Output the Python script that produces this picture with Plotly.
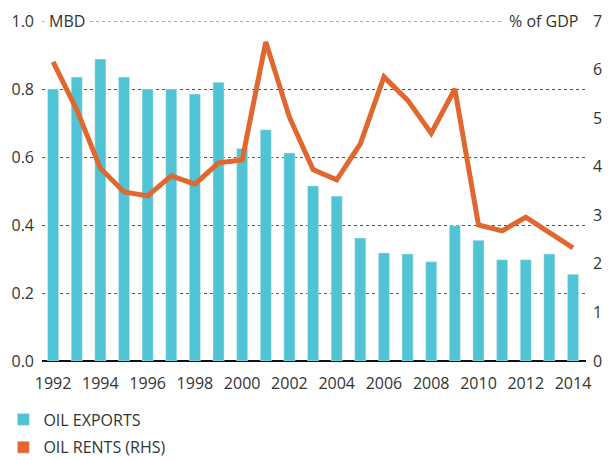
import plotly.graph_objects as go

years = list(range(1992, 2015))
oil_exports = [0.80, 0.835, 0.888, 0.835, 0.80, 0.80, 0.785, 0.82, 0.625, 0.68,
               0.612, 0.515, 0.485, 0.362, 0.318, 0.315, 0.292, 0.398, 0.355,
               0.298, 0.298, 0.315, 0.255]
oil_rents = [6.16, 5.17, 3.97, 3.48, 3.40, 3.81, 3.64, 4.08, 4.14, 6.57,
             5.02, 3.94, 3.73, 4.47, 5.85, 5.37, 4.69, 5.60, 2.80, 2.68,
             2.96, 2.63, 2.33]
left_ticks = [0.0, 0.2, 0.4, 0.6, 0.8, 1.0]
left_labels = ["0.0", "0.2", "0.4", "0.6", "0.8", "1.0"]
right_ticks = [0, 1, 2, 3, 4, 5, 6, 7]
x_ticks = list(range(1992, 2015, 2))

BAR = "#50C4D4"
LINE = "#E0672F"
TXT = "#333333"
GRID = "#555555"
FONT = "Open Sans"

fig = go.Figure()
fig.add_trace(go.Bar(x=years, y=oil_exports, marker_color=BAR, width=0.47,
                     name="OIL EXPORTS", yaxis="y", legendgroup="a"))
fig.add_trace(go.Scatter(x=years, y=oil_rents, mode="lines",
                         line=dict(color=LINE, width=5), yaxis="y2",
                         showlegend=False, name="OIL RENTS (RHS)"))
fig.add_trace(go.Bar(x=[years[0]], y=[None], marker_color=LINE,
                     name="OIL RENTS (RHS)", yaxis="y", legendgroup="b"))

# page has an 8px body margin, so the figure is drawn 8px in from top-left
fig.update_layout(
    width=603, height=452,
    margin=dict(l=34, r=25, t=13, b=99, autoexpand=False),
    paper_bgcolor="white", plot_bgcolor="white",
    font=dict(family=FONT, size=16, color=TXT),
    barmode="overlay",
    xaxis=dict(range=[1991.53, 2014.55], tickvals=x_ticks,
               ticktext=[str(v) for v in x_ticks], showgrid=False,
               showline=False, zeroline=False, ticks="", automargin=False,
               ticklabelstandoff=11,
               tickfont=dict(size=16, color=TXT)),
    yaxis=dict(range=[0, 1.0], tickvals=left_ticks, ticktext=left_labels,
               showgrid=True, gridcolor=GRID, griddash="dot", gridwidth=1,
               zeroline=True, zerolinecolor="#111111", zerolinewidth=2,
               ticks="", ticklabelstandoff=7, automargin=False,
               tickfont=dict(size=16, color=TXT)),
    yaxis2=dict(range=[0, 7], tickvals=right_ticks, overlaying="y",
                side="right", showgrid=False, zeroline=False, ticks="",
                ticklabelstandoff=6, automargin=False,
                tickfont=dict(size=16, color=TXT)),
    legend=dict(x=-0.071, y=-0.122, xanchor="left", yanchor="top",
                orientation="v", font=dict(size=16, color=TXT),
                tracegroupgap=4, itemwidth=30),
    showlegend=True,
    shapes=[dict(type="line", xref="paper", yref="y", x0=0, x1=1,
                 y0=left_ticks[-1], y1=left_ticks[-1], layer="below",
                 line=dict(color=GRID, width=1, dash="dot"))],
    annotations=[
        dict(text="MBD", xref="paper", yref="paper", x=0.003, y=1.0,
             xanchor="left", yanchor="middle", showarrow=False,
             bgcolor="white", borderpad=4, font=dict(size=16, color=TXT)),
        dict(text="% of GDP", xref="paper", yref="paper", x=1.0, y=1.0,
             xanchor="right", yanchor="middle", showarrow=False,
             bgcolor="white", borderpad=7, font=dict(size=16, color=TXT)),
    ],
)

fig.write_html("out.html")
